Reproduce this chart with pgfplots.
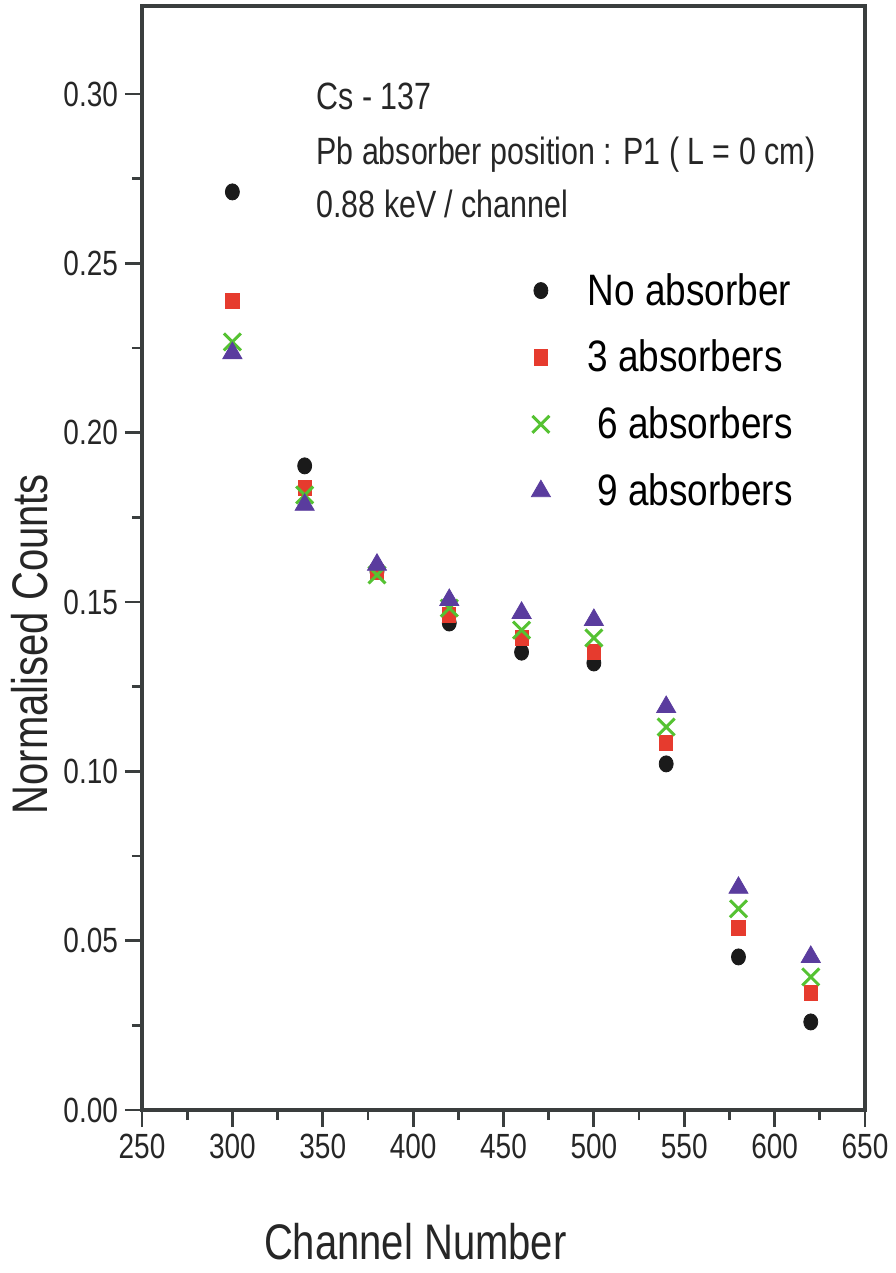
\documentclass[border=0pt]{standalone}
\usepackage{pgfplots}
\pgfplotsset{compat=1.18}
\usepackage{fontspec}
\setmainfont{Liberation Sans}[FakeStretch=0.8]
\newfontfamily\legfont{Liberation Sans}[FakeStretch=0.84]
\definecolor{axgray}{HTML}{3A3E3E}
\definecolor{mred}{HTML}{E63B2E}
\definecolor{mgreen}{HTML}{55C232}
\definecolor{mpurple}{HTML}{5A3C9E}
\definecolor{mblack}{HTML}{1A1A1A}
\pgfplotsset{mylegimg/.style={legend image code/.code={\draw[##1, only marks] plot coordinates {(0.3cm,0cm)};\node[draw=none, fill=none, inner sep=0pt, outer sep=0pt, minimum size=0pt] at (1.05cm,0cm) {};}}}
\begin{document}
\begin{tikzpicture}
\begin{axis}[
  scale only axis,
  width=361.5pt, height=552pt,
  xmin=250, xmax=650, ymin=0, ymax=0.326,
  xtick={250,300,...,650},
  ytick={0,0.05,0.10,0.15,0.20,0.25,0.30},
  minor x tick num=1, minor y tick num=1,
  xtick pos=bottom, ytick pos=left,
  tick align=outside,
  major tick length=8.5pt, minor tick length=5pt,
  axis line style={line width=1.6pt, color=axgray},
  every tick/.style={line width=1.4pt, color=axgray},
  /pgf/number format/assume math mode=true,
  tick label style={font=\fontsize{17.5}{20}\selectfont, color=black!85},
  yticklabel style={/pgf/number format/.cd, fixed, fixed zerofill, precision=2},
  xticklabel style={/pgf/number format/.cd, set thousands separator={}},
  xlabel={Channel Number},
  ylabel={Normalised Counts},
  label style={font=\fontsize{25}{28}\selectfont, color=black!85},
  xlabel style={at={(axis description cs:0.378,-0.119)}, anchor=center},
  ylabel style={at={(axis description cs:-0.155,0.422)}, anchor=center},
  legend style={draw=none, fill=none, at={(axis description cs:0.538,0.762)}, anchor=north west,
    font=\legfont\fontsize{22}{24}\selectfont, row sep=12pt, inner sep=0pt},
  legend cell align=left,
  clip=false,
]
\addplot[only marks, mylegimg, mark=*, color=mblack, mark size=3.5pt, mark options={yscale=1.15}] coordinates {
(300,0.2711) (340,0.1902) (380,0.1590) (420,0.1438) (460,0.1352) (500,0.1320) (540,0.1022) (580,0.0452) (620,0.0260)};
\addlegendentry{No absorber}
\addplot[only marks, mylegimg, mark=square*, color=mred, mark size=3.3pt, mark options={yscale=1.15}] coordinates {
(300,0.2389) (340,0.1837) (380,0.1590) (420,0.1462) (460,0.1394) (500,0.1352) (540,0.1084) (580,0.0537) (620,0.0346)};
\addlegendentry{3 absorbers}
\addplot[only marks, mylegimg, mark=x, color=mgreen, mark size=6pt, mark options={line width=1.5pt}] coordinates {
(300,0.2268) (340,0.1816) (380,0.1580) (420,0.1482) (460,0.1417) (500,0.1394) (540,0.1131) (580,0.0594) (620,0.0393)};
\addlegendentry{\hspace{5pt}6 absorbers}
\addplot[only marks, mylegimg, mark=triangle*, color=mpurple, mark size=5.5pt] coordinates {
(300,0.2235) (340,0.1787) (380,0.1610) (420,0.1506) (460,0.1468) (500,0.1447) (540,0.1190) (580,0.0656) (620,0.0452)};
\addlegendentry{\hspace{5pt}9 absorbers}
\node[anchor=base west, font=\fontsize{19}{22}\selectfont, color=black!85, inner sep=0pt] at (axis cs:346.3,0.2953) {Cs - 137};
\node[anchor=base west, font=\fontsize{19}{22}\selectfont, color=black!85, inner sep=0pt] at (axis cs:346.3,0.2793) {Pb absorber position : P1 ( L = 0 cm)};
\node[anchor=base west, font=\fontsize{19}{22}\selectfont, color=black!85, inner sep=0pt] at (axis cs:346.3,0.2634) {0.88 keV / channel};
\end{axis}
\pgfresetboundingbox
\path (-71pt,-81.5pt) rectangle (376.5pt,555pt);
\end{tikzpicture}
\end{document}
